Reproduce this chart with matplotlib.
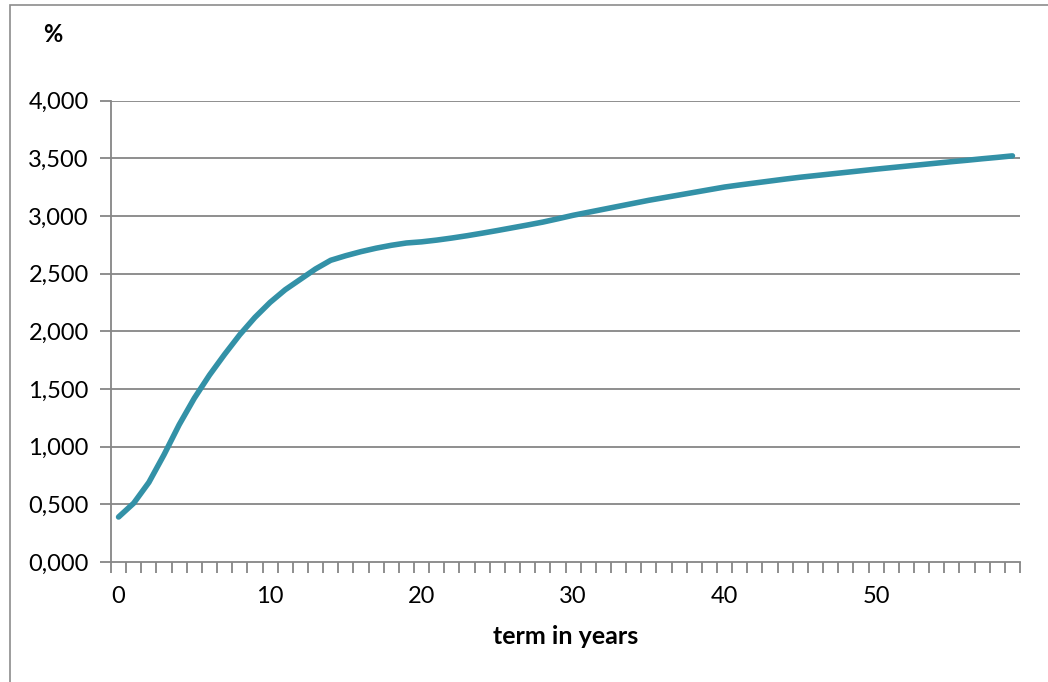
import numpy as np
import matplotlib
matplotlib.use("Agg")
import matplotlib.pyplot as plt
from matplotlib.patches import Rectangle
from matplotlib.ticker import FuncFormatter

plt.rcParams['font.family'] = ['Lato', 'DejaVu Sans']

# term structure (years 0..59), values in %
years = list(range(60))
rates = [0.39, 0.51, 0.69, 0.93, 1.19, 1.42, 1.62, 1.80, 1.97, 2.12,
         2.25, 2.36, 2.45, 2.54, 2.615, 2.655, 2.69, 2.72, 2.745, 2.765,
         2.775, 2.79, 2.808, 2.828, 2.85, 2.873, 2.897, 2.921, 2.946, 2.975,
         3.005, 3.031, 3.057, 3.083, 3.109, 3.135, 3.158, 3.181, 3.204, 3.227,
         3.250, 3.268, 3.285, 3.302, 3.319, 3.335, 3.349, 3.363, 3.377, 3.391,
         3.405, 3.418, 3.431, 3.444, 3.457, 3.470, 3.482, 3.495, 3.507, 3.520]
y_ticks = [0, 0.5, 1.0, 1.5, 2.0, 2.5, 3.0, 3.5, 4.0]
x_labels = [0, 10, 20, 30, 40, 50]

W, H = 1048, 682
fig = plt.figure(figsize=(W / 100, H / 100), dpi=100)

# outer chart frame
fig.patches.append(Rectangle((10 / W, -0.01), 1.02, (H - 5) / H + 0.01,
                             transform=fig.transFigure, fill=False,
                             edgecolor='#8c8c8c', linewidth=1.2))

ax = fig.add_axes([111 / W, (H - 562) / H, (1020 - 111) / W, (562 - 100.5) / H])

grid_c = '#868686'
for v in y_ticks[1:]:
    ax.axhline(v, color=grid_c, linewidth=1.3, zorder=1)

ax.plot(years, rates, color='#3391A7', linewidth=4,
        solid_capstyle='round', solid_joinstyle='round', zorder=3)

ax.set_xlim(-0.5, 59.5)
ax.set_ylim(0, 4.0)

ax.set_yticks(y_ticks)
ax.yaxis.set_major_formatter(FuncFormatter(lambda v, p: f"{v:.3f}".replace('.', ',')))
ax.set_xticks(x_labels)
ax.set_xticks(np.arange(-0.5, 60, 1), minor=True)

ax.tick_params(axis='y', length=8, width=1.3, color=grid_c, labelsize=17, pad=8)
ax.tick_params(axis='x', which='major', length=0, labelsize=17, pad=17)
ax.tick_params(axis='x', which='minor', length=8, width=1.3, color=grid_c)

for s in ['top', 'right']:
    ax.spines[s].set_visible(False)
for s in ['left', 'bottom']:
    ax.spines[s].set_color(grid_c)
    ax.spines[s].set_linewidth(1.3)

fig.text(53 / W, 1 - 35 / H, '%', fontsize=17, fontweight='bold', ha='center', va='center')
fig.text(566 / W, 1 - 636 / H, 'term in years', fontsize=18, fontweight='bold',
         ha='center', va='center')

fig.savefig('out.png', dpi=100)
